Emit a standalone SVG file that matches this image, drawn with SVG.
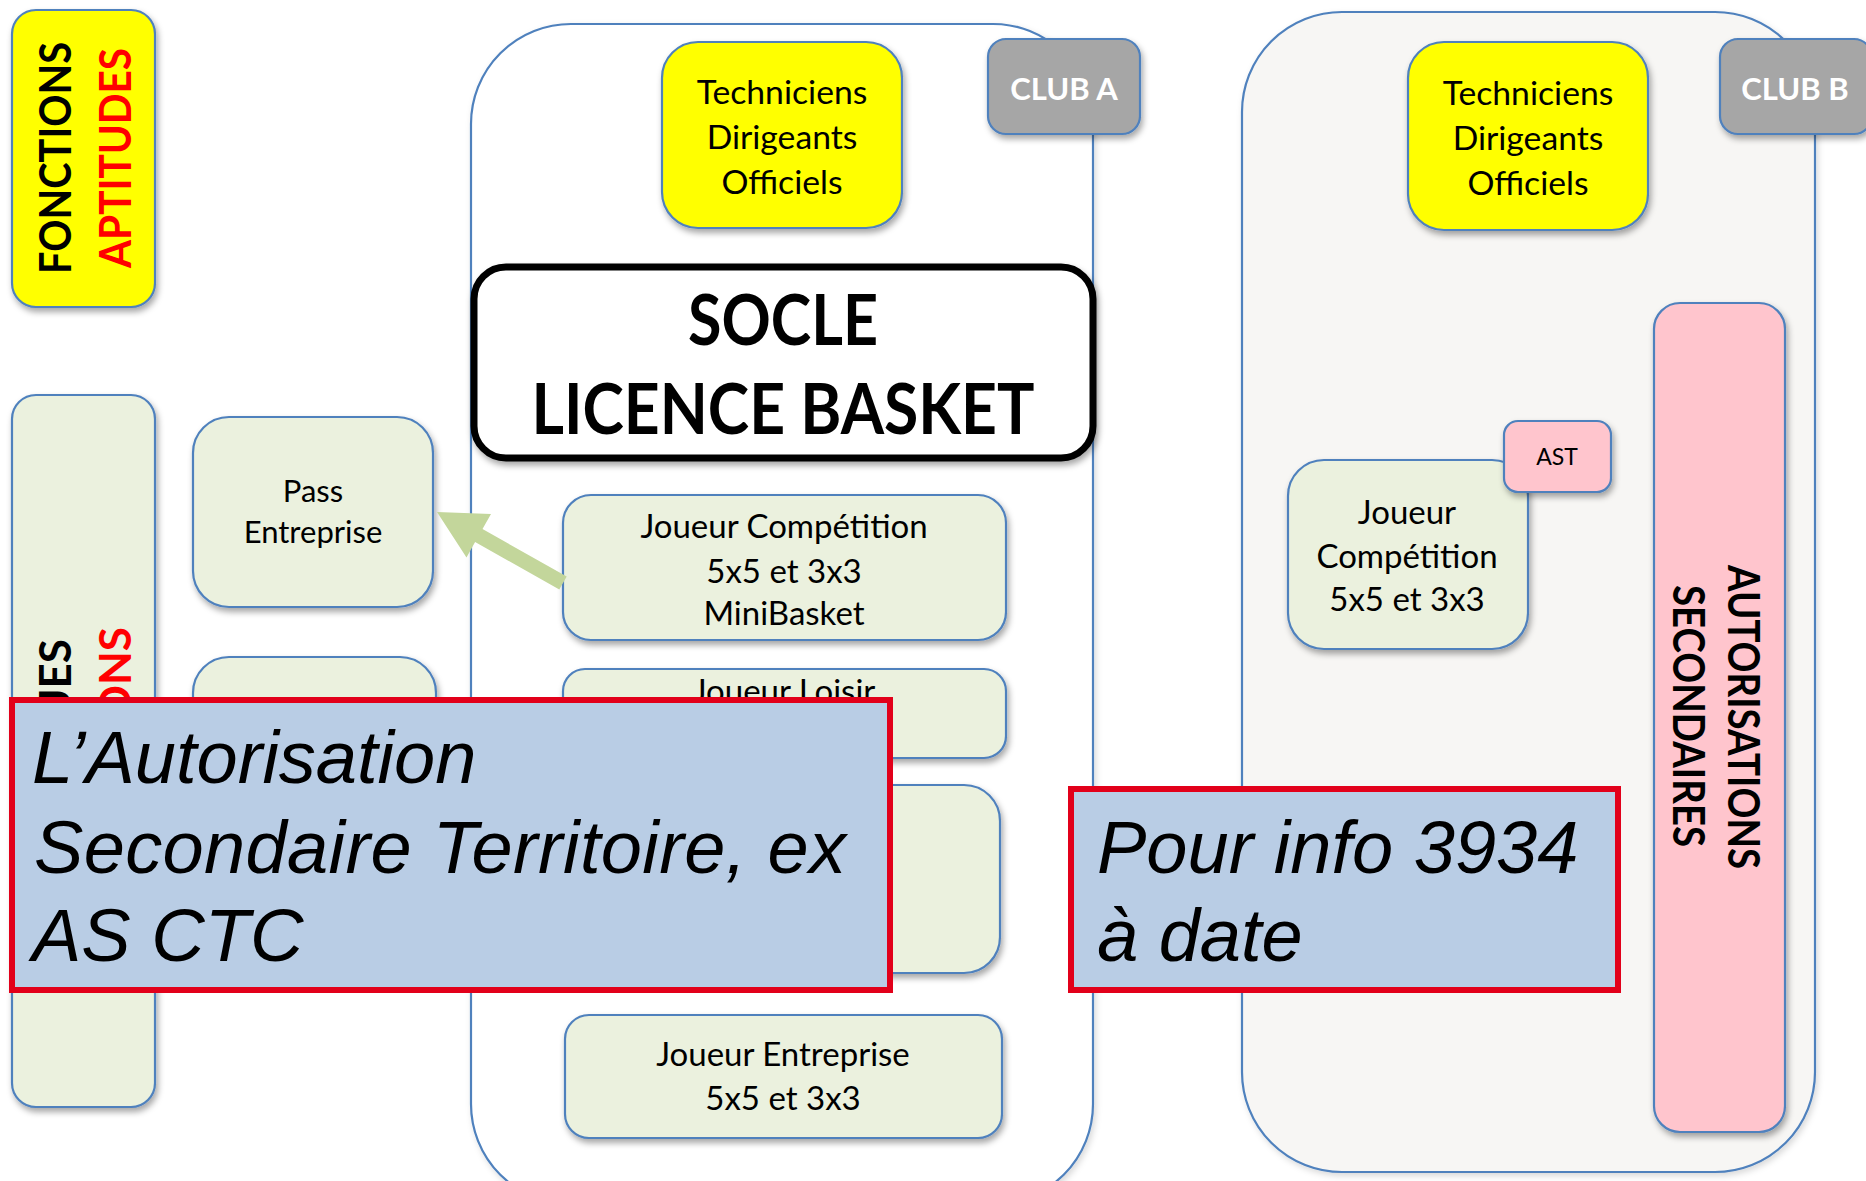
<svg xmlns="http://www.w3.org/2000/svg" width="1866" height="1181" viewBox="0 0 1866 1181">
<defs>
  <filter id="sh" x="-15%" y="-15%" width="135%" height="135%">
    <feDropShadow dx="2" dy="4" stdDeviation="3" flood-color="#000" flood-opacity="0.35"/>
  </filter>
  <filter id="shc" x="-5%" y="-5%" width="112%" height="112%">
    <feDropShadow dx="2" dy="3" stdDeviation="3" flood-color="#000" flood-opacity="0.15"/>
  </filter>
</defs>
<style>
  .box{stroke:#4f81bd;stroke-width:2.2}
  .g{fill:#ebf1de}
  .y{fill:#ffff00}
  .p{fill:#ffc5cd}
  .club{fill:#a6a6a6}
  .t{font-family:Lato,"Open Sans","Liberation Sans",sans-serif;fill:#000;text-anchor:middle}
  .s32{font-size:32px}
  .s33{font-size:33px}
  .s34{font-size:33.7px}
  .s31{font-size:31px}
  .s44{font-size:44px}
  .b{font-weight:700}
  .w{fill:#ffffff}
  .r{fill:#ff0000}
  .end{text-anchor:end}
  .note{fill:#b9cde5;stroke:#e2001a;stroke-width:6}
  .big{font-family:"Liberation Sans",Arial,sans-serif;font-style:italic;font-size:74px;fill:#000}
</style>
<rect x="0" y="0" width="1866" height="1181" fill="#ffffff"/>

<g id="clubA-container">
  <rect class="box" x="471" y="24" width="622" height="1180" rx="100" fill="#ffffff" filter="url(#shc)"/>
</g>
<g id="clubB-container">
  <rect class="box" x="1242" y="12" width="573" height="1160" rx="100" fill="#f7f6f4" filter="url(#shc)"/>
</g>

<g id="fonctions-aptitudes">
  <rect class="box y" x="12" y="10" width="143" height="297" rx="24" filter="url(#sh)"/>
  <text class="t b s44" transform="translate(71,158) rotate(-90)" textLength="232" lengthAdjust="spacingAndGlyphs">FONCTIONS</text>
  <text class="t b r s44" transform="translate(131,158) rotate(-90)" textLength="220" lengthAdjust="spacingAndGlyphs">APTITUDES</text>
</g>

<g id="left-tall">
  <rect class="box g" x="12" y="395" width="143" height="712" rx="24" filter="url(#sh)"/>
  <text class="t b s44 end" transform="translate(71,639) rotate(-90)">UES</text>
  <text class="t b r s44 end" transform="translate(131,627) rotate(-90)">ONS</text>
</g>

<g id="pass-entreprise">
  <rect class="box g" x="193" y="417" width="240" height="190" rx="36" filter="url(#sh)"/>
  <text class="t s31" x="313" y="502">Pass</text>
  <text class="t s31" x="313" y="543">Entreprise</text>
</g>

<g id="left-box-2">
  <rect class="box g" x="193" y="657" width="243" height="190" rx="36" filter="url(#sh)"/>
</g>

<g id="techniciens-a">
  <rect class="box y" x="662" y="42" width="240" height="186" rx="36" filter="url(#sh)"/>
  <text class="t s34" x="782" y="104">Techniciens</text>
  <text class="t s34" x="782" y="149">Dirigeants</text>
  <text class="t s34" x="782" y="194">Officiels</text>
</g>

<g id="club-a">
  <rect class="box club" x="988" y="39" width="152" height="95" rx="18" filter="url(#sh)"/>
  <text class="t b w" style="font-size:31px" x="1064" y="100">CLUB A</text>
</g>

<g id="socle">
  <rect x="474" y="267" width="619" height="191" rx="32" fill="#ffffff" stroke="#000" stroke-width="7" filter="url(#sh)"/>
  <text class="t b" style="font-size:70px" x="783" y="345" textLength="190" lengthAdjust="spacingAndGlyphs">SOCLE</text>
  <text class="t b" style="font-size:70px" x="783" y="434" textLength="503" lengthAdjust="spacingAndGlyphs">LICENCE BASKET</text>
</g>

<g id="joueur-competition-a">
  <rect class="box g" x="563" y="495" width="443" height="145" rx="28" filter="url(#sh)"/>
  <text class="t s33" x="784" y="538">Joueur Compétition</text>
  <text class="t s33" x="784" y="583">5x5 et 3x3</text>
  <text class="t s33" x="784" y="625">MiniBasket</text>
</g>

<g id="joueur-loisir">
  <rect class="box g" x="563" y="669" width="443" height="89" rx="22" filter="url(#sh)"/>
  <text class="t s33" x="784" y="703">Joueur Loisir</text>
</g>

<g id="club-a-box-3">
  <rect class="box g" x="563" y="785" width="437" height="188" rx="36" filter="url(#sh)"/>
</g>

<g id="joueur-entreprise">
  <rect class="box g" x="565" y="1015" width="437" height="123" rx="24" filter="url(#sh)"/>
  <text class="t s33" x="783" y="1066">Joueur Entreprise</text>
  <text class="t s33" x="783" y="1110">5x5 et 3x3</text>
</g>

<g id="techniciens-b">
  <rect class="box y" x="1408" y="42" width="240" height="188" rx="36" filter="url(#sh)"/>
  <text class="t s34" x="1528" y="105">Techniciens</text>
  <text class="t s34" x="1528" y="150">Dirigeants</text>
  <text class="t s34" x="1528" y="195">Officiels</text>
</g>

<g id="club-b">
  <rect class="box club" x="1720" y="39" width="152" height="95" rx="18" filter="url(#sh)"/>
  <text class="t b w" style="font-size:31px" x="1795" y="100">CLUB B</text>
</g>

<g id="joueur-competition-b">
  <rect class="box g" x="1288" y="460" width="240" height="189" rx="36" filter="url(#sh)"/>
  <text class="t s33" x="1407" y="524">Joueur</text>
  <text class="t s33" x="1407" y="568">Compétition</text>
  <text class="t s33" x="1407" y="611">5x5 et 3x3</text>
</g>

<g id="ast">
  <rect class="box p" x="1504" y="421" width="107" height="71" rx="14" filter="url(#sh)"/>
  <text class="t" style="font-size:23px" x="1557" y="465">AST</text>
</g>

<g id="autorisations-secondaires">
  <rect class="box p" x="1654" y="303" width="131" height="829" rx="26" filter="url(#sh)"/>
  <text class="t b s44" transform="translate(1728,717) rotate(90)" textLength="304" lengthAdjust="spacingAndGlyphs">AUTORISATIONS</text>
  <text class="t b s44" transform="translate(1673,716) rotate(90)" textLength="262" lengthAdjust="spacingAndGlyphs">SECONDAIRES</text>
</g>

<g id="connectors">
  <polygon points="437,512 491,514 482.5,529 566.7,576.5 559.3,589.5 475.1,542.1 466.5,557.4" fill="#c3d69b"/>
</g>

<g id="note-ast">
  <rect class="note" x="12" y="700" width="878" height="290"/>
  <text class="big" x="32" y="783">L’Autorisation</text>
  <text class="big" x="34" y="873" textLength="812">Secondaire Territoire, ex</text>
  <text class="big" x="32" y="961">AS CTC</text>
</g>

<g id="note-info">
  <rect class="note" x="1071" y="789" width="547" height="201"/>
  <text class="big" x="1097" y="873">Pour info 3934</text>
  <text class="big" x="1097" y="961">à date</text>
</g>
</svg>
